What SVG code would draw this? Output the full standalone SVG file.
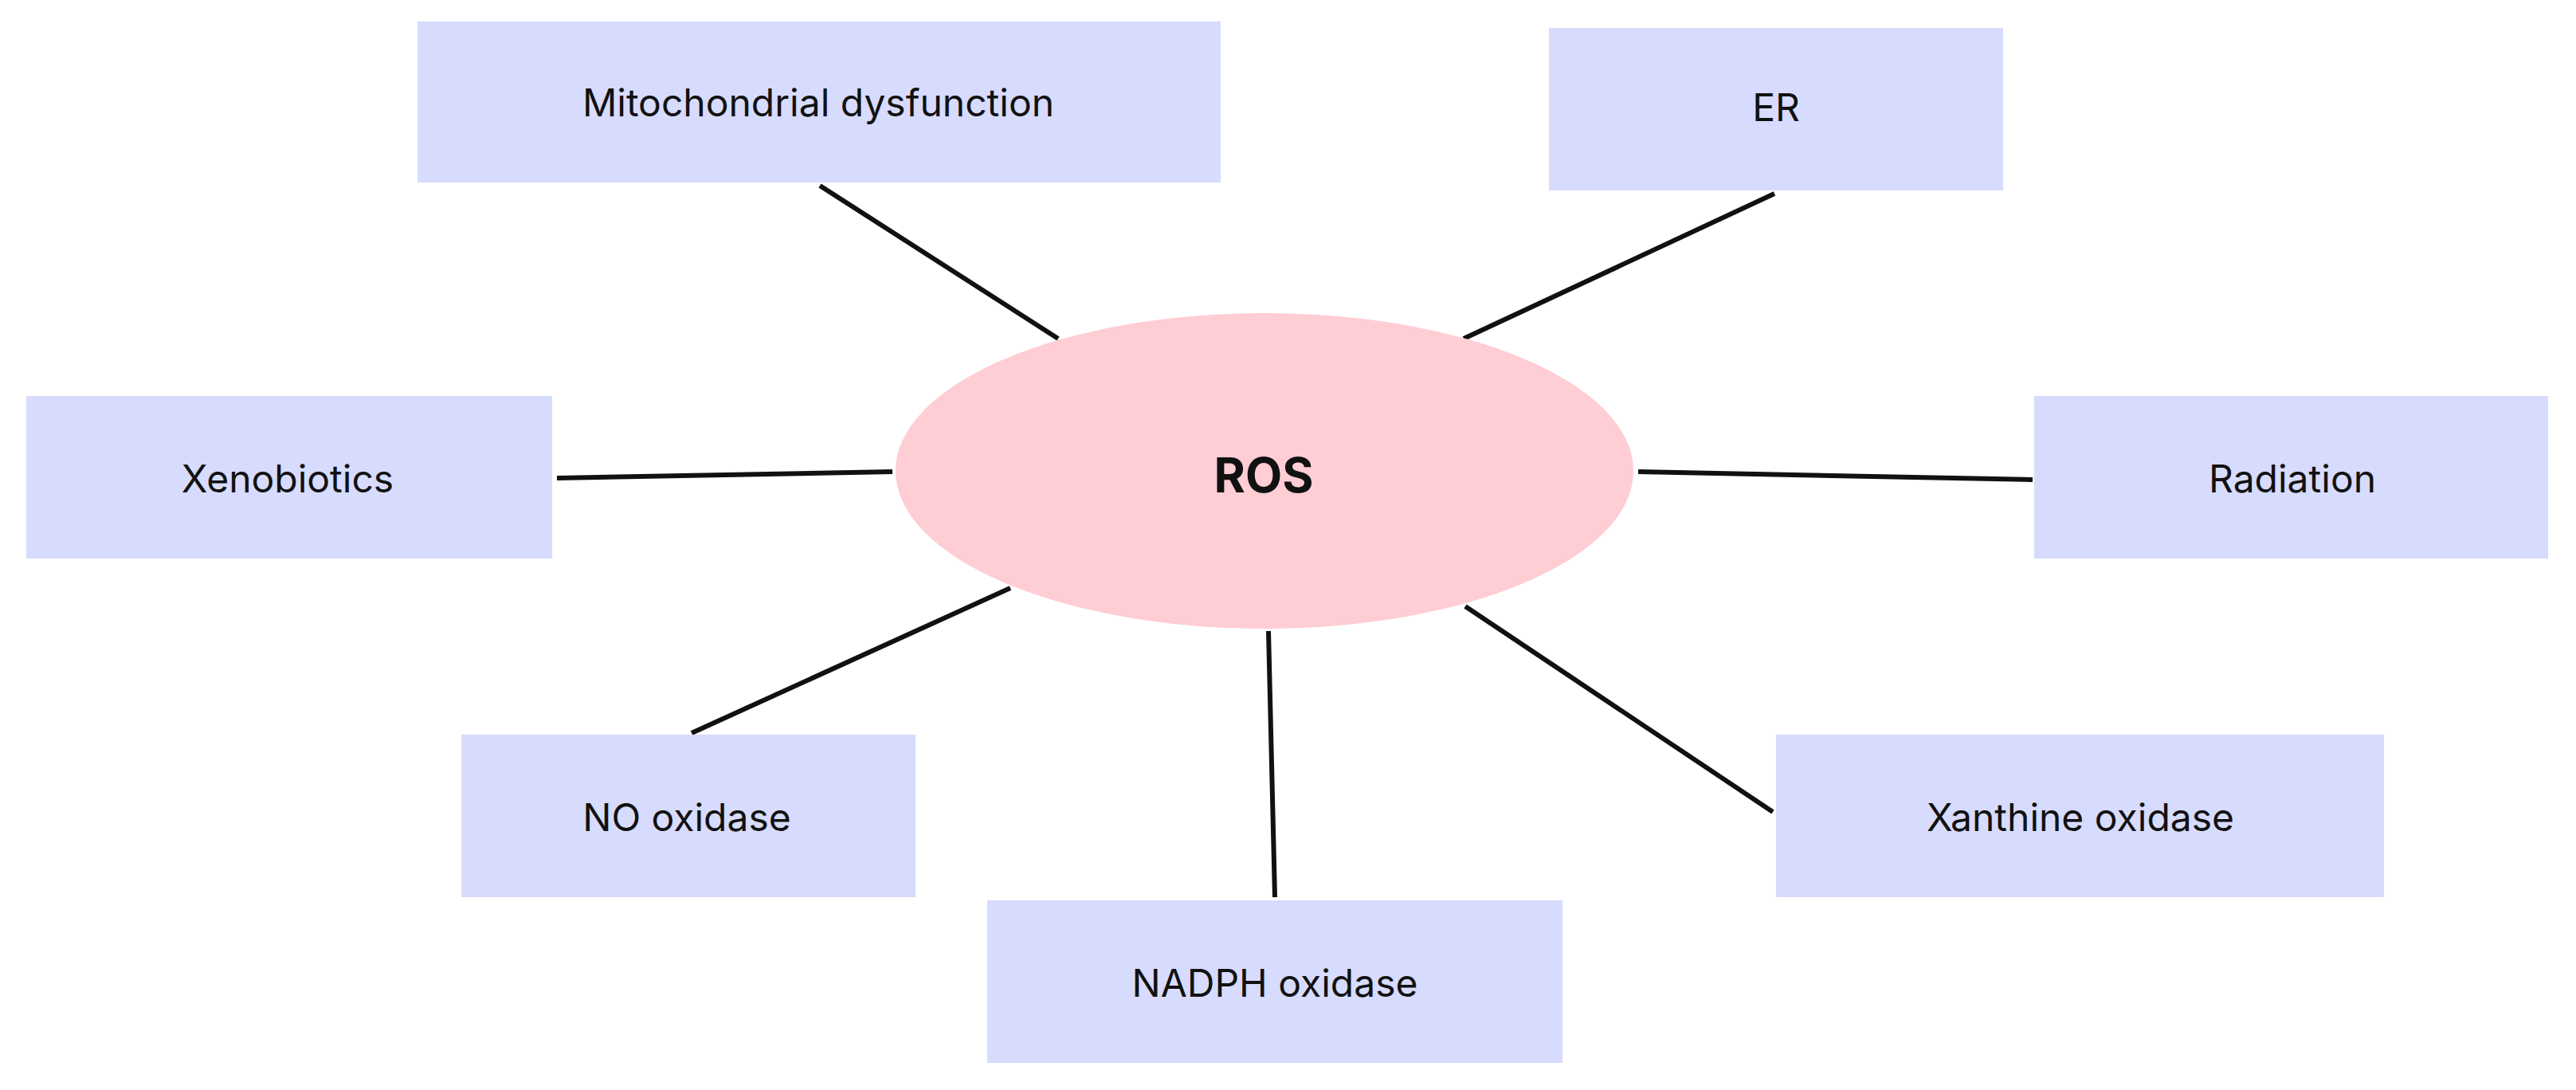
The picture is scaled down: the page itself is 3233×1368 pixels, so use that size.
<svg xmlns="http://www.w3.org/2000/svg" width="3233" height="1368" viewBox="0 0 3233 1368">
<style>
.box{fill:#D7DBFE}
.t{font-family:Inter,"Open Sans",sans-serif;font-size:48px;fill:#111;text-anchor:middle;dominant-baseline:central}
.c line{stroke:#111;stroke-width:6}
</style>
<rect width="3233" height="1368" fill="#fff"/>
<g class="c" id="connectors">
<line x1="1029" y1="233" x2="1328" y2="425"/>
<line x1="2227" y1="243" x2="1837" y2="425"/>
<line x1="699" y1="600" x2="1120" y2="592"/>
<line x1="2056" y1="592" x2="2551" y2="602"/>
<line x1="868" y1="920" x2="1268" y2="738"/>
<line x1="1839" y1="761" x2="2225" y2="1019"/>
<line x1="1592" y1="792" x2="1600" y2="1126"/>
</g>
<g id="ros"><ellipse cx="1587" cy="591" rx="463" ry="198" fill="#FFCDD4"/><text class="t" x="1586" y="596" style="font-weight:bold;font-size:60px">ROS</text></g>
<g id="mito"><rect class="box" x="524" y="27" width="1008" height="202"/><text class="t" x="1027" y="128">Mitochondrial dysfunction</text></g>
<g id="er"><rect class="box" x="1944" y="35" width="570" height="204"/><text class="t" x="2229" y="134">ER</text></g>
<g id="xeno"><rect class="box" x="33" y="497" width="660" height="204"/><text class="t" x="361" y="600">Xenobiotics</text></g>
<g id="rad"><rect class="box" x="2553" y="497" width="645" height="204"/><text class="t" x="2877" y="600">Radiation</text></g>
<g id="no"><rect class="box" x="579" y="922" width="570" height="204"/><text class="t" x="862" y="1025">NO oxidase</text></g>
<g id="xan"><rect class="box" x="2229" y="922" width="763" height="204"/><text class="t" x="2611" y="1025">Xanthine oxidase</text></g>
<g id="nadph"><rect class="box" x="1239" y="1130" width="722" height="204"/><text class="t" x="1600" y="1233">NADPH oxidase</text></g>
</svg>
